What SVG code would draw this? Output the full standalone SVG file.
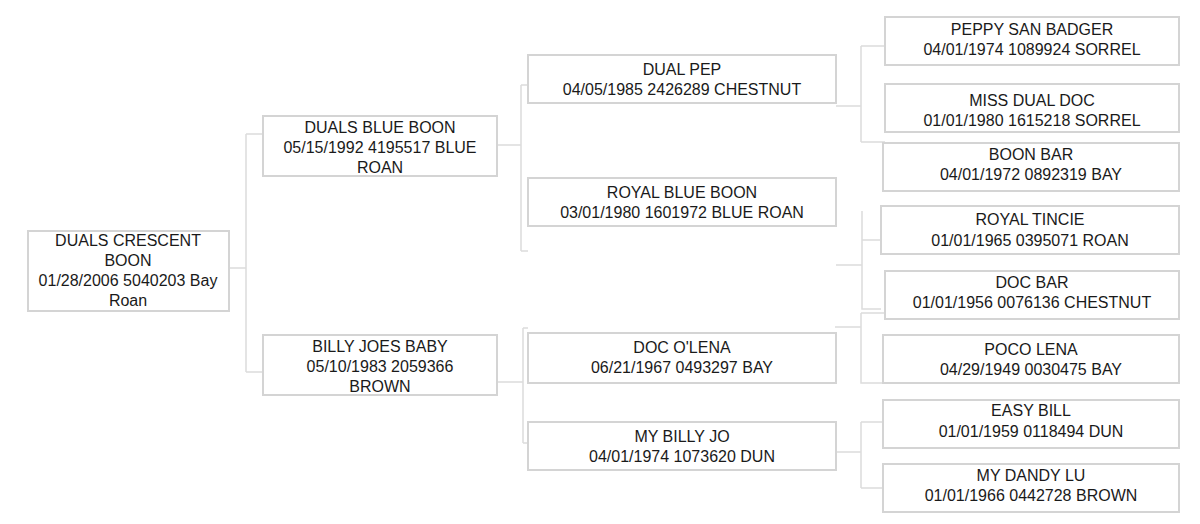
<svg xmlns="http://www.w3.org/2000/svg" width="1200" height="524" viewBox="0 0 1200 524">
<style>
rect{fill:#fff;stroke:#d4d4d4;stroke-width:2}
text{font-family:"Liberation Sans",Arial,sans-serif;font-size:16px;fill:#1a1a1a;text-anchor:middle}
.c{fill:none;stroke:#dcdcdc;stroke-width:1.5}
</style>
<rect x="0" y="0" width="1200" height="524" style="stroke:none"/>
<g id="connectors" class="c">
<path class="c" d="M229 268H246M246 134V372M246 134H263M246 372H263"/>
<path class="c" d="M497 145H521M521 85V251M521 85H528M521 251H528"/>
<path class="c" d="M836 106H861M861 46V142M861 46H885M861 142H885"/>
<path class="c" d="M836 265H862M862 211V240H883M862 240V309H881"/>
<path class="c" d="M497 382H523M523 328V443M523 328H528M523 443H528"/>
<path class="c" d="M835 327H861M861 313V383H883M861 313H885"/>
<path class="c" d="M836 452H861M861 422V488M861 422H883M861 488H883"/>
</g>
<g id="n1"><rect x="28" y="231" width="201" height="80"/><text x="128" y="246">DUALS CRESCENT</text><text x="128" y="266">BOON</text><text x="128" y="286">01/28/2006 5040203 Bay</text><text x="128" y="306">Roan</text></g>
<g id="n2"><rect x="263" y="116" width="234" height="60"/><text x="380" y="133">DUALS BLUE BOON</text><text x="380" y="153">05/15/1992 4195517 BLUE</text><text x="380" y="173">ROAN</text></g>
<g id="n3"><rect x="263" y="335" width="234" height="60"/><text x="380" y="352">BILLY JOES BABY</text><text x="380" y="372">05/10/1983 2059366</text><text x="380" y="392">BROWN</text></g>
<g id="n4"><rect x="528" y="55" width="308" height="48"/><text x="682" y="75">DUAL PEP</text><text x="682" y="95">04/05/1985 2426289 CHESTNUT</text></g>
<g id="n5"><rect x="528" y="178" width="308" height="48"/><text x="682" y="198">ROYAL BLUE BOON</text><text x="682" y="218">03/01/1980 1601972 BLUE ROAN</text></g>
<g id="n6"><rect x="528" y="333" width="308" height="50"/><text x="682" y="353">DOC O'LENA</text><text x="682" y="373">06/21/1967 0493297 BAY</text></g>
<g id="n7"><rect x="528" y="422" width="308" height="48"/><text x="682" y="442">MY BILLY JO</text><text x="682" y="462">04/01/1974 1073620 DUN</text></g>
<g id="n8"><rect x="885" y="17" width="294" height="48"/><text x="1032" y="35">PEPPY SAN BADGER</text><text x="1032" y="55">04/01/1974 1089924 SORREL</text></g>
<g id="n9"><rect x="885" y="84" width="294" height="48"/><text x="1032" y="106">MISS DUAL DOC</text><text x="1032" y="126">01/01/1980 1615218 SORREL</text></g>
<g id="n10"><rect x="883" y="143" width="296" height="48"/><text x="1031" y="160">BOON BAR</text><text x="1031" y="180">04/01/1972 0892319 BAY</text></g>
<g id="n11"><rect x="881" y="206" width="298" height="48"/><text x="1030" y="225">ROYAL TINCIE</text><text x="1030" y="246">01/01/1965 0395071 ROAN</text></g>
<g id="n12"><rect x="885" y="271" width="294" height="48"/><text x="1032" y="288">DOC BAR</text><text x="1032" y="308">01/01/1956 0076136 CHESTNUT</text></g>
<g id="n13"><rect x="883" y="335" width="296" height="48"/><text x="1031" y="355">POCO LENA</text><text x="1031" y="375">04/29/1949 0030475 BAY</text></g>
<g id="n14"><rect x="883" y="400" width="296" height="48"/><text x="1031" y="416">EASY BILL</text><text x="1031" y="437">01/01/1959 0118494 DUN</text></g>
<g id="n15"><rect x="883" y="464" width="296" height="48"/><text x="1031" y="481">MY DANDY LU</text><text x="1031" y="501">01/01/1966 0442728 BROWN</text></g>
</svg>
